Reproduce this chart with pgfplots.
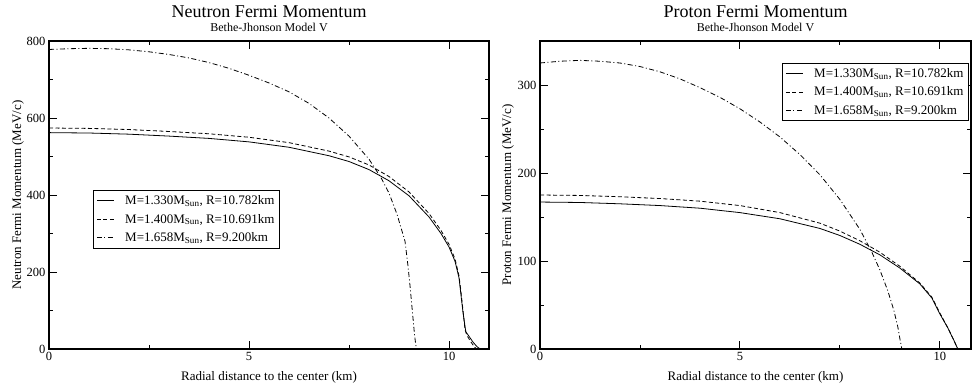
\documentclass[border=0pt]{standalone}
\usepackage{fontspec}
\setmainfont{Liberation Serif}
\usepackage{pgfplots}
\pgfplotsset{compat=1.18}
\usepackage{pgfplotstable}

\pgfplotstableread{
x y
0 562
1 561
2 558
3 553
4 547
5 538
6 524
7 502
7.5 487
8 466
8.5 437
9 398
9.5 343
9.8 300
10 265
10.15 228
10.25 185
10.3 140
10.35 95
10.42 45
10.5 33
10.6 18
10.7 6
10.78 0
}\nsolid
\pgfplotstableread{
x y
0 574
1 573
2 570
3 565
4 559
5 550
6 536
7 514
7.5 499
8 478
8.5 448
9 408
9.5 352
9.8 308
10 272
10.15 234
10.25 190
10.3 148
10.35 100
10.4 50
10.45 35
10.55 18
10.63 6
10.69 0
}\ndashed
\pgfplotstableread{
x y
0 778
0.5 780
1 781
1.5 780
2 777
2.5 772
3 765
3.5 756
4 744
4.5 729
5 711
5.5 691
6 668
6.5 638
7 600
7.5 553
8 493
8.3 445
8.5 405
8.7 350
8.9 280
8.97 220
9.02 170
9.06 125
9.1 80
9.14 35
9.17 10
9.2 0
}\ndashdot
\pgfplotstableread{
x y
0 167
1 166.5
2 165
3 163
4 160
5 155
6 148
7 137
7.5 129
8 119
8.5 107
9 92
9.5 74
9.8 58
10 40
10.2 24
10.35 10
10.45 0
}\psolid
\pgfplotstableread{
x y
0 175
1 174.5
2 173
3 171
4 168
5 163
6 155
7 143
7.5 134
8 123
8.5 110
9 94
9.5 75
9.8 59
10 41
10.2 24
10.35 10
10.45 0
}\pdashed
\pgfplotstableread{
x y
0 325
0.5 327
1 328
1.5 327
2 325
2.5 321
3 315
3.5 307
4 297
4.5 286
5 273
5.5 258
6 241
6.5 221
7 198
7.5 170
8 136
8.3 110
8.5 90
8.7 66
8.85 44
8.95 25
9.0 12
9.05 0
}\pdashdot

\pgfplotsset{
  fermi/.style={
    scale only axis,
    height=308pt,
    axis line style={line width=1.2pt},
    tick style={black, line width=0.9pt},
    major tick length=8pt,
    minor tick length=4pt,
    tick align=inside,
    xtick={0,5,10},
    minor x tick num=1,
    minor y tick num=1,
    /pgf/number format/assume math mode=true,
    ticklabel style={font=\fontsize{12.5}{13}\selectfont},
    xlabel={Radial distance to the center (km)},
    xlabel style={font=\fontsize{13}{14}\selectfont, at={(axis description cs:0.5,0)}, anchor=base, yshift=-31pt},
    ylabel style={font=\fontsize{13}{14}\selectfont},
    clip=false,
    legend cell align=left,
    legend style={font=\fontsize{13}{14}\selectfont, draw=black, line width=0.8pt, inner xsep=3pt, inner ysep=3pt, row sep=4pt},
    legend image code/.code={\draw[#1, line width=0.8pt] (0pt,0pt) -- (17pt,0pt); \path (26pt,0pt);},
  },
  curve/.style={black, line width=0.8pt},
}

\begin{document}
\begin{tikzpicture}[x=1pt,y=1pt]
\useasboundingbox (0,0) rectangle (972,386);
\begin{axis}[fermi,
  at={(49pt,37pt)}, anchor=south west,
  width=440pt,
  xmin=0, xmax=11, ymin=0, ymax=800,
  ytick={0,200,400,600,800},
  ylabel={Neutron Fermi Momentum (MeV/c)},
  ylabel style={at={(axis description cs:-0.0705,0.5)}, anchor=center, rotate=0},
  legend style={at={(rel axis cs:0.1,0.516)}, anchor=north west},
]
\addplot[curve] table {\nsolid};
\addlegendentry{M=1.330M\textsubscript{Sun}, R=10.782km}
\addplot[curve, dash pattern=on 4pt off 2.5pt] table {\ndashed};
\addlegendentry{M=1.400M\textsubscript{Sun}, R=10.691km}
\addplot[curve, dash pattern=on 5pt off 2.5pt on 1pt off 2.5pt] table {\ndashdot};
\addlegendentry{M=1.658M\textsubscript{Sun}, R=9.200km}
\node[font=\fontsize{18}{20}\selectfont, anchor=base] at (rel axis cs:0.5,1) [yshift=24pt] {Neutron Fermi Momentum};
\node[font=\fontsize{12}{13}\selectfont, anchor=base] at (rel axis cs:0.5,1) [yshift=10pt] {Bethe-Jhonson Model V};
\end{axis}
\begin{axis}[fermi,
  at={(540pt,37pt)}, anchor=south west,
  width=431pt,
  xmin=0, xmax=10.78, ymin=0, ymax=350,
  ytick={0,100,200,300},
  ylabel={Proton Fermi Momentum (MeV/c)},
  ylabel style={at={(axis description cs:-0.074,0.5)}, anchor=center, rotate=0},
  legend style={at={(rel axis cs:0.995,0.929)}, anchor=north east},
]
\addplot[curve] table {\psolid};
\addlegendentry{M=1.330M\textsubscript{Sun}, R=10.782km}
\addplot[curve, dash pattern=on 4pt off 2.5pt] table {\pdashed};
\addlegendentry{M=1.400M\textsubscript{Sun}, R=10.691km}
\addplot[curve, dash pattern=on 5pt off 2.5pt on 1pt off 2.5pt] table {\pdashdot};
\addlegendentry{M=1.658M\textsubscript{Sun}, R=9.200km}
\node[font=\fontsize{18}{20}\selectfont, anchor=base] at (rel axis cs:0.5,1) [yshift=24pt] {Proton Fermi Momentum};
\node[font=\fontsize{12}{13}\selectfont, anchor=base] at (rel axis cs:0.5,1) [yshift=10pt] {Bethe-Jhonson Model V};
\end{axis}
\end{tikzpicture}
\end{document}
